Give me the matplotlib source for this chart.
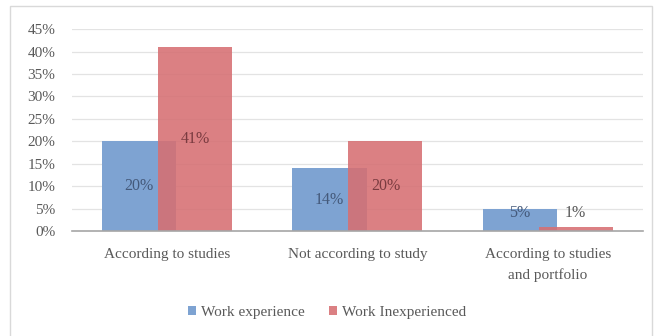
import numpy as np
import matplotlib
matplotlib.use('Agg')
import matplotlib.pyplot as plt
from matplotlib.patches import Rectangle
from matplotlib.font_manager import FontProperties

categories = ['According to studies', 'Not according to study', 'According to studies\nand portfolio']
experienced = [20, 14, 5]
inexperienced = [41, 20, 1]
series_names = ['Work experience', 'Work Inexperienced']

plt.rcParams['font.family'] = ['Liberation Serif']

blue = '#7ea3d2'
red = '#d66f72'
text_grey = '#595959'

fig = plt.figure(figsize=(6.54, 3.36), dpi=100)
ax = fig.add_axes([0.110, 0.3125, 0.873, 0.601])

x = np.arange(len(categories))
w = 0.39
b1 = ax.bar(x - 0.147, experienced, w, color=blue, label=series_names[0], zorder=2)
b2 = ax.bar(x + 0.147, inexperienced, w, color=red, alpha=0.88, label=series_names[1], zorder=3)

# data labels (centred, small bars lifted a bit)
for xi, v in zip(x, experienced):
    ax.text(xi - 0.147, max(v / 2, 4), f'{v}%', ha='center', va='center',
            fontsize=11.5, color='#44597a', zorder=4)
for xi, v in zip(x, inexperienced):
    ax.text(xi + 0.147, max(v / 2, 4), f'{v}%', ha='center', va='center',
            fontsize=11.5, color='#7a3b40' if v > 2 else text_grey, zorder=4)

ax.set_xlim(-0.5, 2.5)
ax.set_ylim(0, 45)
ax.set_yticks(np.arange(0, 46, 5))
ax.set_yticklabels([f'{t}%' for t in range(0, 46, 5)])
ax.set_xticks(x)
ax.set_xticklabels(categories, linespacing=1.7)
ax.tick_params(axis='both', length=0, labelsize=11, colors=text_grey)
ax.tick_params(axis='x', pad=12)
ax.tick_params(axis='y', pad=12)
ax.grid(axis='y', color='#e3e3e3', linewidth=0.9, zorder=0)
for s in ['top', 'right', 'left']:
    ax.spines[s].set_visible(False)
ax.spines['bottom'].set_color('#a6a6a6')
ax.spines['bottom'].set_linewidth(1.2)
ax.spines['bottom'].set_zorder(5)

leg = fig.legend(handles=[b1, b2], labels=series_names, loc='center',
                 bbox_to_anchor=(0.5, 0.07), ncol=2, frameon=False,
                 prop=FontProperties(family='Liberation Serif', size=11),
                 handlelength=0.55, handleheight=0.55,
                 handletextpad=0.3, columnspacing=1.6)
for t in leg.get_texts():
    t.set_color(text_grey)

# chart frame
fig.patches.append(Rectangle((10 / 654, -0.01), 642 / 654, 1 - 6 / 336 + 0.01,
                             transform=fig.transFigure, fill=False,
                             edgecolor='#d9d9d9', linewidth=1.0))

plt.savefig('out.png', dpi=100)
